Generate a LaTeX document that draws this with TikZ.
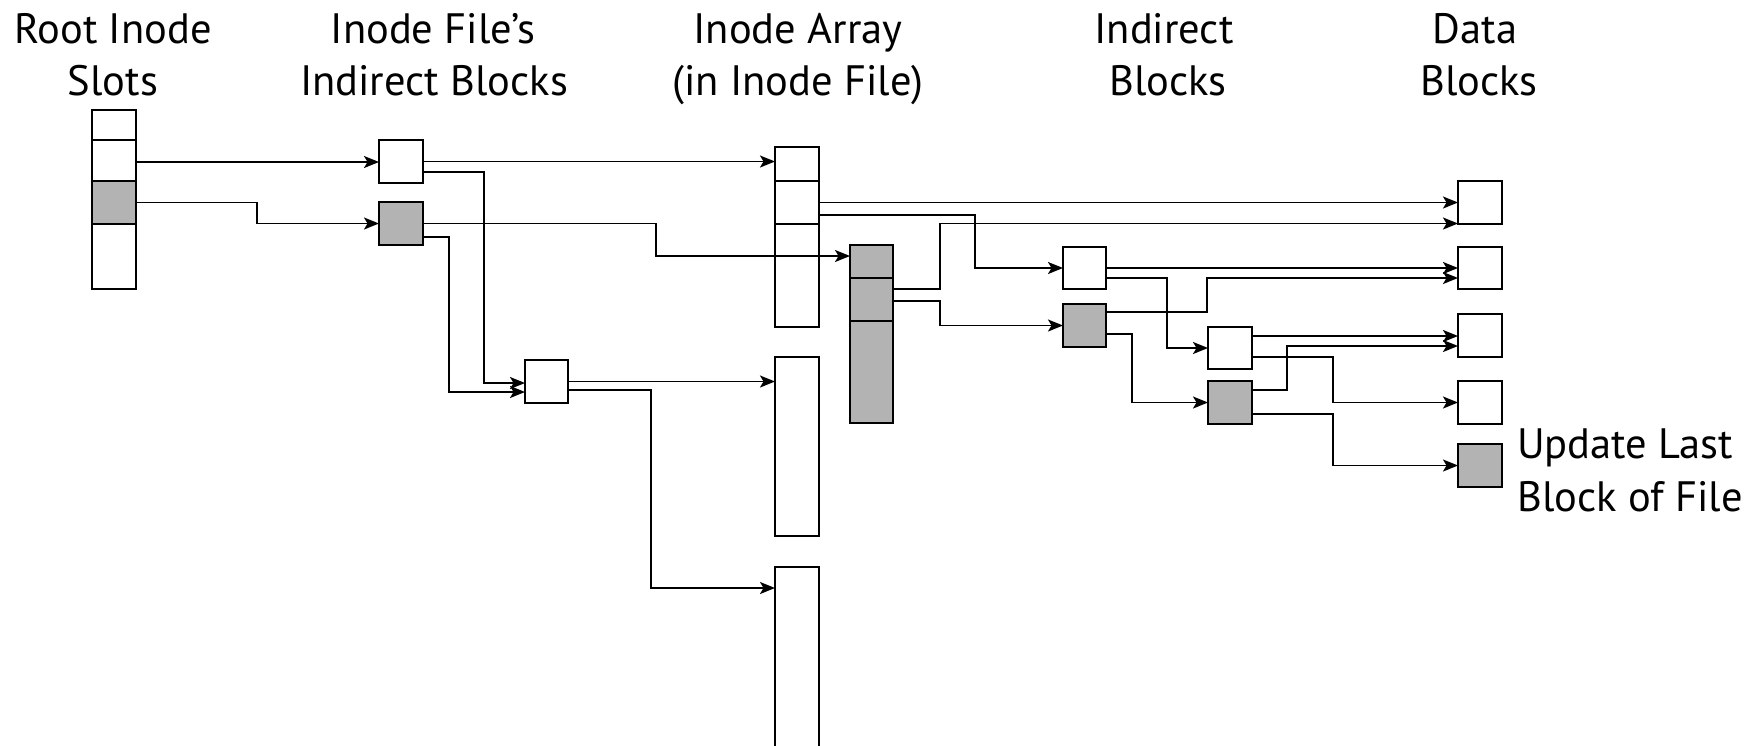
\documentclass[tikz,border=0pt]{standalone}
\usepackage{fontspec}
\setmainfont{PT Sans}
\usetikzlibrary{arrows.meta,calc}
\definecolor{blockgray}{RGB}{179,179,179}
\tikzset{
  blk/.style={draw=black, line width=2pt, fill=white, inner sep=0pt, outer sep=0pt, minimum width=44pt},
  gblk/.style={blk, fill=blockgray},
  arr/.style={draw=black, line width=1.7pt, -{Stealth[length=15pt,width=12pt,inset=3.5pt]}},
  hdr/.style={anchor=base, inner sep=0pt, font=\fontsize{42.5}{52}\selectfont},
  lbl/.style={anchor=base west, inner sep=0pt, font=\fontsize{42.5}{52}\selectfont}
}
\begin{document}
\begin{tikzpicture}[x=1pt,y=-1pt]
\clip (0,0) rectangle (1760,745);
\fill[white] (0,0) rectangle (1760,745);
% headers
\node[hdr] (h1a) at (113,43) {Root Inode};
\node[hdr] (h1b) at (113,95) {Slots};
\node[hdr] (h2a) at (433,43) {Inode File’s};
\node[hdr] (h2b) at (434,95) {Indirect Blocks};
\node[hdr] (h3a) at (798,43) {Inode Array};
\node[hdr] (h3b) at (798,95) {(in Inode File)};
\node[hdr] (h4a) at (1164,43) {Indirect};
\node[hdr] (h4b) at (1168,95) {Blocks};
\node[hdr] (h5a) at (1475,43) {Data};
\node[hdr] (h5b) at (1479,95) {Blocks};
\node[lbl] (l1) at (1517,458) {Update Last};
\node[lbl] (l2) at (1517,511) {Block of File};
% root inode slots
\node[blk, minimum height=30pt] (R0) at (114,125) {};
\node[blk, minimum height=41pt] (R1) at (114,160.5) {};
\node[gblk, minimum height=43pt] (R2) at (114,202.5) {};
\node[blk, minimum height=65pt] (R3) at (114,256.5) {};
% inode file's indirect blocks
\node[blk, minimum height=43pt] (A) at (401,161.5) {};
\node[gblk, minimum height=43pt] (B) at (401,223.5) {};
\node[blk, minimum width=43pt, minimum height=43pt] (C) at (546.5,381.5) {};
% inode array
\node[blk, minimum height=34pt] (I1a) at (797,164) {};
\node[blk, minimum height=43pt] (I1b) at (797,202.5) {};
\node[blk, minimum height=103pt] (I1c) at (797,275.5) {};
\node[blk, minimum height=179pt] (I2) at (797,446.5) {};
\node[blk, minimum height=233pt] (I3) at (797,683.5) {};
\node[gblk, minimum width=43pt, minimum height=33pt] (G1) at (871.5,261.5) {};
\node[gblk, minimum width=43pt, minimum height=43pt] (G2) at (871.5,299.5) {};
\node[gblk, minimum width=43pt, minimum height=102pt] (G3) at (871.5,372) {};
% indirect blocks
\node[blk, minimum width=43pt, minimum height=42pt] (D) at (1084.5,268) {};
\node[gblk, minimum width=43pt, minimum height=43pt] (E) at (1084.5,325.5) {};
\node[blk, minimum height=42pt] (F) at (1230,348) {};
\node[gblk, minimum height=43pt] (H) at (1230,402.5) {};
% data blocks
\node[blk, minimum height=43pt] (DB1) at (1480,202.5) {};
\node[blk, minimum height=42pt] (DB2) at (1480,268) {};
\node[blk, minimum height=43pt] (DB3) at (1480,335.5) {};
\node[blk, minimum height=43pt] (DB4) at (1480,402.5) {};
\node[gblk, minimum height=43pt] (DB5) at (1480,465.5) {};
% connectors
\draw[arr] ([yshift=-1.5pt]R1.east) -- ([yshift=-1.5pt]R1.east -| A.west);
\draw[arr] (R2.east) -- ++(121,0) |- (B.west);
\draw[arr] (A.east) -- (A.east -| I1a.west);
\draw[arr] ([yshift=-10.5pt]A.east) -- ++(61,0) |- ([yshift=-1.5pt]C.west);
\draw[arr] (B.east) -- ++(233,0) |- ([yshift=5.5pt]G1.west);
\draw[arr] ([yshift=-13.5pt]B.east) -- ++(26,0) |- ([yshift=-10.5pt]C.west);
\draw[arr] (C.east) -- (C.east -| I2.west);
\draw[arr] ([yshift=-8.5pt]C.east) -- ++(83,0) |- ([yshift=-21pt]I3.north west);
\draw[arr] (I1b.east) -- (I1b.east -| DB1.west);
\draw[arr] ([yshift=-12.5pt]I1b.east) -- ++(156,0) |- (D.west);
\draw[arr] ([yshift=10.5pt]G2.east) -- ++(47,0) |- ([yshift=-21pt]DB1.west);
\draw[arr] ([yshift=-1.5pt]G2.east) -- ++(47,0) |- (E.west);
\draw[arr] (D.east) -- (D.east -| DB2.west);
\draw[arr] ([yshift=-10pt]D.east) -- ++(61,0) |- (F.west);
\draw[arr] ([yshift=13.5pt]E.east) -- ++(101,0) |- ([yshift=-10pt]DB2.west);
\draw[arr] ([yshift=-8.5pt]E.east) -- ++(26,0) |- (H.west);
\draw[arr] ([yshift=12pt]F.east) -- ([yshift=12pt]F.east -| DB3.west);
\draw[arr] ([yshift=-9pt]F.east) -- ++(81,0) |- (DB4.west);
\draw[arr] ([yshift=12.5pt]H.east) -- ++(35,0) |- ([yshift=-10.5pt]DB3.west);
\draw[arr] ([yshift=-11.5pt]H.east) -- ++(81,0) |- (DB5.west);
\end{tikzpicture}
\end{document}
